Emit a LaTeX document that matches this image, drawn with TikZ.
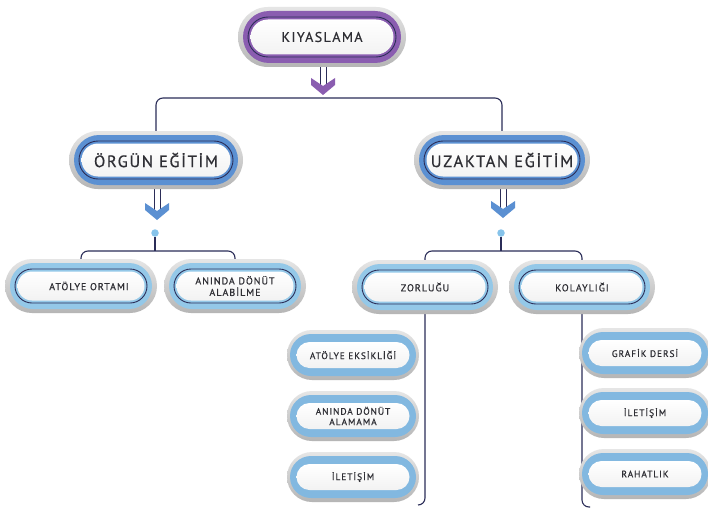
\documentclass[tikz,border=0pt]{standalone}
\usepackage{fontspec}
\setmainfont{PT Sans}
\newfontfamily\lsfont[LetterSpace=10,FakeBold=0.6]{PT Sans}
\usetikzlibrary{shapes.misc,backgrounds,calc}
\definecolor{navy}{HTML}{2B2D58}
\definecolor{purp}{HTML}{8A5DB0}
\definecolor{blueA}{HTML}{5B90D2}
\definecolor{blueB}{HTML}{94C8E8}
\definecolor{blueC}{HTML}{82B8E0}
\definecolor{txt}{HTML}{2E2E34}
\definecolor{dotc}{HTML}{86C3EA}
\newcommand\fA{\lsfont\fontsize{14}{15}\selectfont}
\newcommand\fB{\lsfont\fontsize{16.5}{17}\selectfont}
\newcommand\fC{\lsfont\fontsize{10}{11.5}\selectfont}
\newcommand\fD{\lsfont\fontsize{9.4}{10.5}\selectfont}
\tikzset{
  pillbase/.style={rounded rectangle, inner sep=0pt, outer sep=0pt},
  outerpill/.style={pillbase, top color=gray!20, bottom color=gray!58},
  ringpill/.style={pillbase, fill=#1},
  linepill/.style={pillbase, draw=navy, line width=0.9pt},
  innerpill/.style={pillbase, top color=white, bottom color=gray!10},
  pilltext/.style={text=txt, align=center, inner sep=0pt},
  tA/.style={pilltext, font=\fA},
  tB/.style={pilltext, font=\fB},
  tC/.style={pilltext, font=\fC},
  tD/.style={pilltext, font=\fD},
  conn/.style={draw=navy, line width=1.1pt, rounded corners=7pt},
  dotn/.style={circle, fill=dotc, inner sep=0pt, minimum size=7.5pt},
  shaftst/.style={fill=white, draw=navy, line width=0.6pt},
}
% main pill: name, x, y, w, h, ring colour, text style, text
\newcommand\mainpill[8]{%
  \node[outerpill, minimum width=#4pt, minimum height=#5pt] (#1) at (#2,#3) {};
  \node[ringpill=#6, minimum width=#4pt-10pt, minimum height=#5pt-8pt] at (#2,#3) {};
  \node[linepill, minimum width=#4pt-20pt, minimum height=#5pt-20pt] at (#2,#3) {};
  \node[innerpill, minimum width=#4pt-25pt, minimum height=#5pt-25pt] at (#2,#3) {};
  \node[#7] (#1-t) at (#2,#3) {#8};
}
% leaf pill: name, x, y, w, h, text
\newcommand\leafpill[6]{%
  \node[outerpill, minimum width=#4pt, minimum height=#5pt] (#1) at (#2,#3) {};
  \node[ringpill=blueC, minimum width=#4pt-6pt, minimum height=#5pt-8pt] at (#2,#3) {};
  \node[innerpill, minimum width=#4pt-19pt, minimum height=#5pt-24pt] at (#2,#3) {};
  \node[tD] (#1-t) at (#2,#3) {#6};
}
% down arrow: x, top y, tip y, colour
\newcommand\pillarrow[4]{%
  \path[shaftst] (#1-3,#2) rectangle (#1+3,#3-7);
  \path[fill=#4] (#1-12,#3-17) -- (#1,#3-9) -- (#1+12,#3-17) -- (#1+12,#3-10) -- (#1,#3) -- (#1-12,#3-10) -- cycle;
}
\begin{document}
\begin{tikzpicture}[x=1pt,y=-1pt]
\useasboundingbox (0,0) rectangle (708,508);
% level 0
\mainpill{kiy}{322}{37}{168}{60}{purp}{tA}{KIYASLAMA}
% level 1
\mainpill{org}{156}{160}{174}{58}{blueA}{tB}{ÖRGÜN EĞİTİM}
\mainpill{uza}{502}{160}{176}{58}{blueA}{tB}{UZAKTAN EĞİTİM}
% level 2
\mainpill{ato}{81}{286}{152}{54}{blueB}{tC, xshift=8pt}{ATÖLYE ORTAMI}
\mainpill{ani}{235}{286}{142}{54}{blueB}{tC}{ANINDA DÖNÜT\\ALABİLME}
\mainpill{zor}{425}{287}{146}{54}{blueB}{tC}{ZORLUĞU}
\mainpill{kol}{582}{287}{146}{54}{blueB}{tC}{KOLAYLIĞI}
% leaves
\leafpill{l1}{353}{355}{132}{50}{ATÖLYE EKSİKLİĞİ}
\leafpill{l2}{353}{416}{132}{50}{ANINDA DÖNÜT\\ALAMAMA}
\leafpill{l3}{353}{477}{132}{50}{İLETİŞİM}
\leafpill{r1}{645}{353}{132}{50}{GRAFİK DERSİ}
\leafpill{r2}{645}{413}{132}{50}{İLETİŞİM}
\leafpill{r3}{645}{474}{132}{50}{RAHATLIK}
% dots
\node[dotn] (d1) at (155,233) {};
\node[dotn] (d2) at (501,233) {};
\coordinate (j0) at (322,98);
\coordinate (j1) at (155,251);
\coordinate (j2) at (501,251);
\coordinate (zend) at (418,505);
\coordinate (kend) at (590,507);
\begin{pgfonlayer}{background}
  \fill[white] (0,0) rectangle (708,508);
  \pillarrow{323}{45}{95}{purp}
  \pillarrow{157}{170}{220}{blueA}
  \pillarrow{503}{170}{218}{blueA}
  \draw[conn] (org.north) |- (j0) -| (uza.north);
  \draw[conn] (d1) -- (j1);
  \draw[conn] (ato.north) |- (j1) -| (ani.north);
  \draw[conn] (d2) -- (j2);
  \draw[conn] (zor.north) |- (j2) -| (kol.north);
  \draw[conn] (zor.south) |- (zend);
  \draw[conn] (kol.south) |- (kend);
\end{pgfonlayer}
\end{tikzpicture}
\end{document}
